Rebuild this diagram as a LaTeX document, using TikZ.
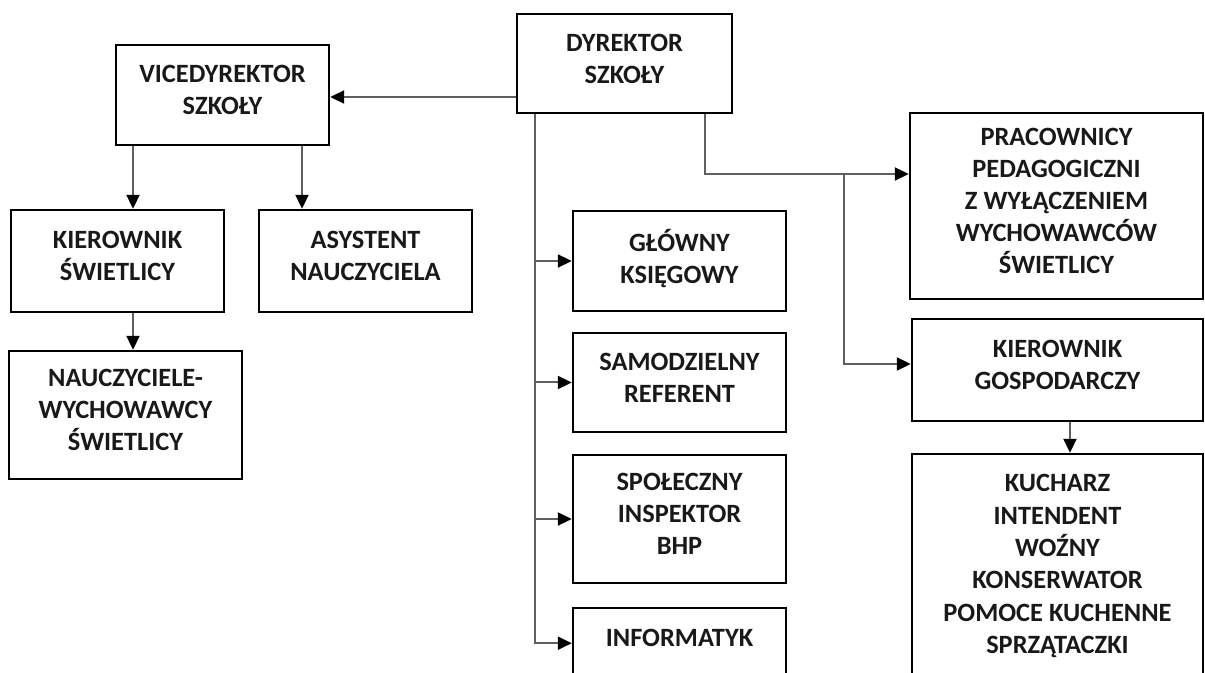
\documentclass[tikz,border=0pt]{standalone}
\usepackage{fontspec}
\setmainfont{Carlito}
\usetikzlibrary{arrows.meta}
\definecolor{conn}{RGB}{95,95,95}
\definecolor{ink}{RGB}{25,25,25}
\begin{document}
\begin{tikzpicture}[x=0.5pt,y=-0.5pt,
  box/.style={draw=black, line width=1.2pt, align=center, inner sep=0pt, text=ink,
    text depth=5pt, font=\bfseries\fontsize{13.2}{16}\selectfont},
  conn/.style={draw=conn, line width=1pt},
  arr/.style={conn, -{Triangle[length=7pt,width=6.5pt,color=black]}}]
\useasboundingbox (0,0) rectangle (1205,673);
\clip (0,0) rectangle (1205,673);
\fill[white] (0,0) rectangle (1205,673);

% boxes
\node[box, minimum width=107.5pt, minimum height=49.5pt] (dyr) at (624.5,63.5) {DYREKTOR\\SZKOŁY};
\node[box, minimum width=106.5pt, minimum height=50pt] (vice) at (222.5,95) {VICEDYREKTOR\\SZKOŁY};
\node[box, minimum width=106.5pt, minimum height=51pt] (kier) at (117.5,261) {KIEROWNIK\\ŚWIETLICY};
\node[box, minimum width=106.5pt, minimum height=51pt] (asys) at (365.5,261) {ASYSTENT\\NAUCZYCIELA};
\node[box, minimum width=116.5pt, minimum height=64pt] (nauc) at (125.5,415) {NAUCZYCIELE-\\WYCHOWAWCY\\ŚWIETLICY};
\node[box, minimum width=106.5pt, minimum height=50pt] (glow) at (679.5,261) {GŁÓWNY\\KSIĘGOWY};
\node[box, minimum width=106.5pt, minimum height=49.5pt] (samo) at (679.5,382.5) {SAMODZIELNY\\REFERENT};
\node[box, minimum width=106.5pt, minimum height=64pt] (spol) at (679.5,519) {SPOŁECZNY\\INSPEKTOR\\BHP};
\node[box, anchor=north, minimum width=106.5pt, text height=19pt, text depth=40pt] (inf) at (679.5,607) {INFORMATYK};
\node[box, minimum width=146.5pt, minimum height=93pt] (prac) at (1056.5,206) {PRACOWNICY\\PEDAGOGICZNI\\Z WYŁĄCZENIEM\\WYCHOWAWCÓW\\ŚWIETLICY};
\node[box, minimum width=145.5pt, minimum height=51pt] (kg) at (1057.5,370) {KIEROWNIK\\GOSPODARCZY};
\node[box, minimum width=145.5pt, minimum height=112pt, text depth=2pt, font=\bfseries\fontsize{13.2}{16.2}\selectfont] (kuch) at (1057.5,566) {KUCHARZ\\INTENDENT\\WOŹNY\\KONSERWATOR\\POMOCE KUCHENNE\\SPRZĄTACZKI};

% helper coordinates for connector positions
\coordinate (xa) at (133,0);
\coordinate (xb) at (302,0);
\coordinate (xt) at (535,0);
\coordinate (xr) at (705,0);
\coordinate (xm) at (844,0);
\coordinate (xk) at (1070,0);
\coordinate (ya) at (0,97);
\coordinate (yc) at (0,174);
\coordinate (yd) at (0,364);

% connectors
\draw[arr] (dyr.west |- ya) -- (vice.east |- ya);
\draw[arr] (vice.south -| xa) -- (kier.north -| xa);
\draw[arr] (vice.south -| xb) -- (asys.north -| xb);
\draw[arr] (kier.south -| xa) -- (nauc.north -| xa);
\draw[arr] (dyr.south -| xt) |- ([yshift=1.5pt]inf.base west);
\draw[arr] (xt |- glow.west) -- (glow.west);
\draw[arr] (xt |- samo.west) -- (samo.west);
\draw[arr] (xt |- spol.west) -- (spol.west);
\draw[arr] (dyr.south -| xr) |- (prac.west |- yc);
\draw[arr] (xm |- yc) |- (kg.west |- yd);
\draw[arr] (kg.south -| xk) -- (kuch.north -| xk);
\end{tikzpicture}
\end{document}
